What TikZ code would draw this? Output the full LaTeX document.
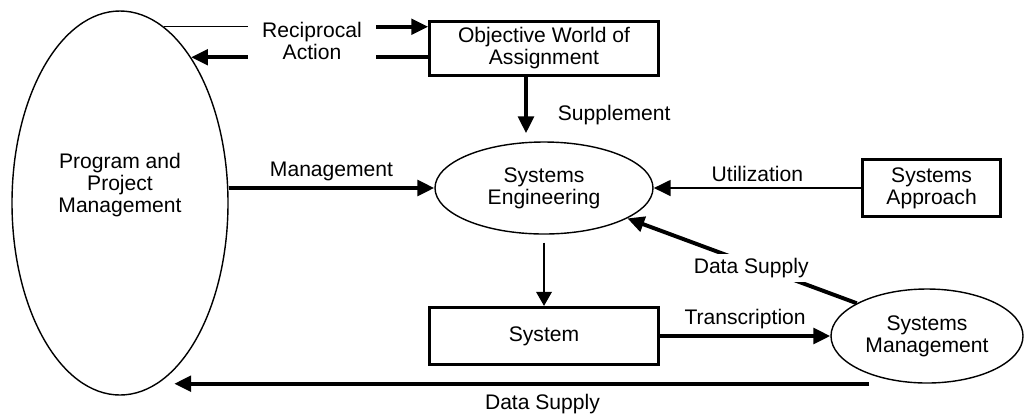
\documentclass[tikz,border=0pt]{standalone}
\usepackage{fontspec}
\setmainfont{Liberation Sans}
\usetikzlibrary{arrows.meta,shapes.geometric}

\tikzset{
  box/.style={draw, rectangle, line width=2.1pt, align=center, inner sep=0pt},
  oval/.style={draw, ellipse, line width=1pt, align=center, inner sep=0pt},
  bigline/.style={line width=2.8pt},
  bigarrow/.style={line width=2.8pt, -{Triangle[length=12pt,width=11pt]}},
  midarrow/.style={line width=2.1pt, -{Triangle[length=12pt,width=11pt]}},
  slimarrow/.style={line width=1.4pt, -{Triangle[length=10pt,width=11pt]}}
}

\begin{document}
\begin{tikzpicture}[font=\fontsize{15}{15.5}\selectfont]
                \useasboundingbox (0,0) rectangle (25.7,-10.35);

                \node[oval, minimum width=5.4cm, minimum height=9.6cm,
                      label={[align=center, yshift=0.45cm]center:{Program and\\Project\\Management}}] (ppm) at (3.0,-5.075) {};
                \node[oval, minimum width=5.45cm, minimum height=2.3cm] (se) at (13.6,-4.7) {Systems\\Engineering};
                \node[box, minimum width=5.72cm, minimum height=1.35cm, node distance=3.49cm, above of=se] (obj) {Objective World of\\Assignment};
                \node[box, minimum width=3.45cm, minimum height=1.43cm, node distance=9.69cm, right of=se] (sa) {Systems\\Approach};
                \node[box, minimum width=5.72cm, minimum height=1.43cm, node distance=3.7cm, below of=se] (sys) {System};
                \node[oval, minimum width=4.8cm, minimum height=2.35cm, node distance=9.575cm, right of=sys] (sm) {Systems\\Management};
                \node[align=center, inner xsep=0.35cm] (recip) at (7.8,-1.025) {Reciprocal\\Action};

                \draw[line width=0.9pt] (ppm.76) -- (recip.west |- ppm.76);
                \draw[bigarrow] (recip.east |- ppm.76) -- (obj.west |- ppm.76);
                \draw[bigline] (obj.west |- ppm.64) -- (recip.east |- ppm.64);
                \draw[bigarrow] (recip.west |- ppm.64) -- (ppm.64);

                \draw[bigarrow, shorten >=0.2cm] ([xshift=-0.45cm]obj.south) -- node[pos=0.6, right=0.63cm] {Supplement} ([xshift=-0.45cm]se.north);
                \draw[bigarrow] (se.west -| ppm.east) -- node[above] {Management} (se.west);
                \draw[midarrow] (sa.west) -- node[above] {Utilization} (se.east);
                \draw[slimarrow, shorten <=0.2cm] (se.south) -- (sys.north);
                \draw[bigarrow] (sys.east) -- node[above] {Transcription} (sm.west);
                \draw[bigarrow] (sm.155) -- node[pos=0.46, fill=white, inner sep=3pt, yshift=-0.1cm] {Data Supply} (se.-20);
                \draw[bigarrow] ([xshift=-1.45cm]sm.south) -- node[pos=0.47, below, yshift=-0.1cm] {Data Supply} (ppm.-72 |- sm.south);
            \end{tikzpicture}
\end{document}
